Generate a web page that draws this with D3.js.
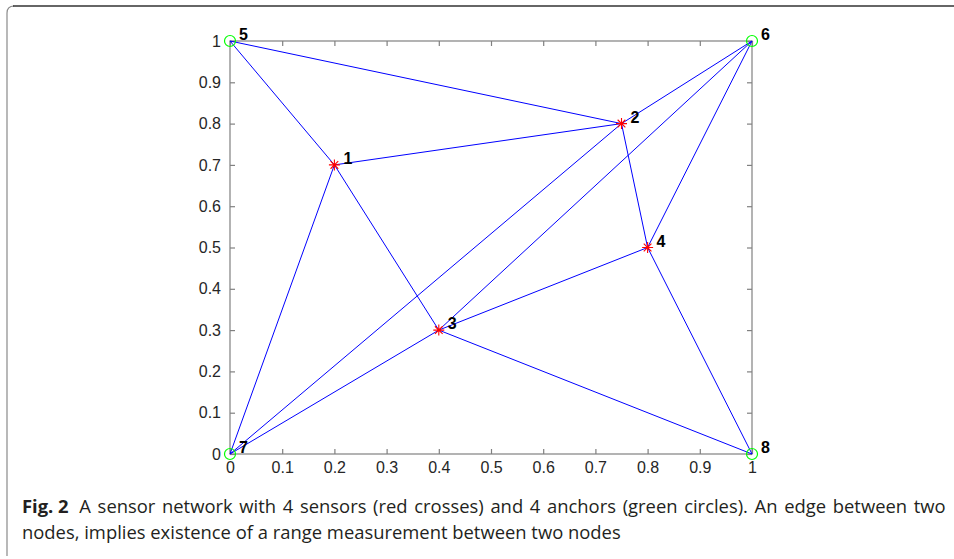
<!DOCTYPE html>
<html><head><meta charset="utf-8">
<script src="https://cdn.jsdelivr.net/npm/d3@7"></script>
<style>
html,body{margin:0;padding:0;background:#fff;}
svg{display:block;}
</style></head>
<body>
<svg id="c" width="954" height="559"></svg>
<script>
// Data
const nodeIds = [1, 2, 3, 4, 5, 6, 7, 8];
const nodeX = [0.2, 0.75, 0.4, 0.8, 0, 1, 0, 1];
const nodeY = [0.7, 0.8, 0.3, 0.5, 1, 1, 0, 0];
const nodeType = ["sensor","sensor","sensor","sensor","anchor","anchor","anchor","anchor"];
const edgeFrom = [5, 5, 1, 1, 1, 2, 2, 2, 3, 3, 3, 3, 4, 4];
const edgeTo   = [1, 2, 2, 3, 7, 6, 4, 7, 6, 4, 7, 8, 6, 8];
const xTicks = [0, 0.1, 0.2, 0.3, 0.4, 0.5, 0.6, 0.7, 0.8, 0.9, 1];
const yTicks = [0, 0.1, 0.2, 0.3, 0.4, 0.5, 0.6, 0.7, 0.8, 0.9, 1];
const captionBold = "Fig. 2";
const captionLine1 = "A sensor network with 4 sensors (red crosses) and 4 anchors (green circles). An edge between two";
const captionLine2 = "nodes, implies existence of a range measurement between two nodes";

const svg = d3.select("#c");
// frame
svg.append("path").attr("d","M7,556 V13 Q7,6 14,6").attr("fill","none").attr("stroke","#8a8a8a").attr("stroke-width",1.2);
svg.append("path").attr("d","M13,6 H954").attr("fill","none").attr("stroke","#333").attr("stroke-width",1.5);

const x = d3.scaleLinear().domain([0,1]).range([230,752]);
const y = d3.scaleLinear().domain([0,1]).range([454,41]);
const fmt = d => String(+d.toFixed(1));
const axisCol = "#808080";
const tl = 5;

// box
svg.append("rect").attr("x",x(0)).attr("y",y(1)).attr("width",x(1)-x(0)).attr("height",y(0)-y(1))
  .attr("fill","none").attr("stroke",axisCol).attr("stroke-width",1.2);

const gx = svg.append("g").attr("transform",`translate(0,${y(0)})`)
  .call(d3.axisBottom(x).tickValues(xTicks).tickFormat(fmt).tickSizeInner(-tl).tickSizeOuter(0).tickPadding(8));
const gxt = svg.append("g").attr("transform",`translate(0,${y(1)})`)
  .call(d3.axisTop(x).tickValues(xTicks).tickFormat("").tickSizeInner(-tl).tickSizeOuter(0));
const gy = svg.append("g").attr("transform",`translate(${x(0)},0)`)
  .call(d3.axisLeft(y).tickValues(yTicks).tickFormat(fmt).tickSizeInner(-tl).tickSizeOuter(0).tickPadding(9));
const gyr = svg.append("g").attr("transform",`translate(${x(1)},0)`)
  .call(d3.axisRight(y).tickValues(yTicks).tickFormat("").tickSizeInner(-tl).tickSizeOuter(0));
[gx,gxt,gy,gyr].forEach(g=>{
  g.attr("font-size",null).attr("font-family",null);
  g.select(".domain").remove();
  g.selectAll(".tick line").attr("stroke",axisCol).attr("stroke-width",1.2);
  g.selectAll("text").attr("fill","#262626").attr("font-family","'Liberation Sans', Arial, sans-serif").attr("font-size",16);
});
gx.selectAll("text").attr("dy","0.71em");

// edges
const pos = id => { const i = nodeIds.indexOf(id); return [x(nodeX[i]), y(nodeY[i])]; };
svg.append("g").selectAll("line").data(edgeFrom.map((f,i)=>[f,edgeTo[i]])).join("line")
  .attr("x1",d=>pos(d[0])[0]).attr("y1",d=>pos(d[0])[1])
  .attr("x2",d=>pos(d[1])[0]).attr("y2",d=>pos(d[1])[1])
  .attr("stroke","#0000ff").attr("stroke-width",1);

const nodes = nodeIds.map((id,i)=>({id, x:nodeX[i], y:nodeY[i], t:nodeType[i]}));
// sensors: asterisk
const s = 5.5;
const sg = svg.append("g").selectAll("g").data(nodes.filter(d=>d.t==="sensor")).join("g")
  .attr("transform",d=>`translate(${x(d.x)},${y(d.y)})`);
sg.append("path").attr("d",`M${-s},0H${s}M0,${-s}V${s}M${-s*0.7},${-s*0.7}L${s*0.7},${s*0.7}M${-s*0.7},${s*0.7}L${s*0.7},${-s*0.7}`)
  .attr("stroke","#ff0000").attr("stroke-width",1.1).attr("fill","none");
// anchors: circles
svg.append("g").selectAll("circle").data(nodes.filter(d=>d.t==="anchor")).join("circle")
  .attr("cx",d=>x(d.x)).attr("cy",d=>y(d.y)).attr("r",5.5)
  .attr("fill","none").attr("stroke","#00ff00").attr("stroke-width",1.2);
// labels
svg.append("g").selectAll("text").data(nodes).join("text")
  .attr("x",d=>x(d.x)+9).attr("y",d=>y(d.y)-1)
  .text(d=>d.id)
  .attr("fill","#000").attr("font-family","'Liberation Sans', Arial, sans-serif").attr("font-size",16).attr("font-weight","bold");

// caption
const cap = svg.append("g").attr("font-family","'Open Sans', 'Noto Sans', sans-serif").attr("font-size",18.4).attr("fill","#231f20");
const t1 = cap.append("text").attr("x",22).attr("y",513);
t1.append("tspan").attr("font-weight","bold").text(captionBold);
t1.append("tspan").attr("dx",4).attr("word-spacing",1.9).text(" " + captionLine1);
cap.append("text").attr("x",22).attr("y",539).text(captionLine2);
</script>
</body></html>
